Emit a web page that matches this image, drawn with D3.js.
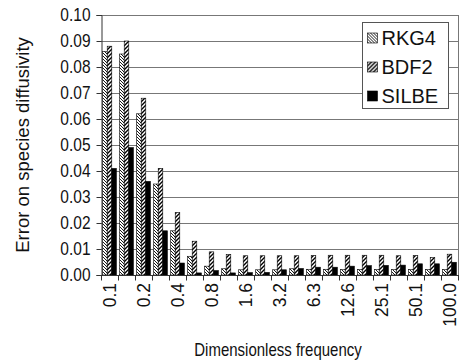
<!DOCTYPE html>
<html>
<head>
<meta charset="utf-8">
<script src="https://cdn.jsdelivr.net/npm/d3@7"></script>
<style>
  html, body { margin: 0; padding: 0; background: #fff; }
  svg { display: block; font-family: "Liberation Sans", Arial, sans-serif; }
</style>
</head>
<body>
<svg id="chart" width="466" height="362"></svg>
<script>
// Dimensionless frequencies (every other one is labelled on the axis)
const frequencies = ["0.1", "0.14", "0.2", "0.28", "0.4", "0.56", "0.8", "1.1", "1.6", "2.2",
  "3.2", "4.5", "6.3", "8.9", "12.6", "17.8", "25.1", "35.5", "50.1", "70.8", "100.0"];
const seriesNames = ["RKG4", "BDF2", "SILBE"];
const rkg4 = [0.086, 0.085, 0.062, 0.035, 0.017, 0.0072, 0.0034, 0.0024, 0.0020, 0.0020,
  0.0020, 0.0024, 0.0022, 0.0022, 0.0021, 0.0021, 0.0021, 0.0021, 0.0021, 0.0021, 0.0021];
const bdf2 = [0.088, 0.090, 0.068, 0.041, 0.024, 0.013, 0.0089, 0.0079, 0.0074, 0.0074,
  0.0074, 0.0074, 0.0075, 0.0076, 0.0076, 0.0076, 0.0076, 0.0074, 0.0075, 0.0067, 0.0080];
const silbe = [0.041, 0.049, 0.036, 0.017, 0.0046, 0.0008, 0.0017, 0.0008, 0.0009, 0.0010,
  0.0020, 0.0025, 0.0030, 0.0030, 0.0034, 0.0036, 0.0037, 0.0038, 0.0043, 0.0043, 0.0049];
const yTicks = [0, 0.01, 0.02, 0.03, 0.04, 0.05, 0.06, 0.07, 0.08, 0.09, 0.10];

const values = [rkg4, bdf2, silbe];
const svg = d3.select("#chart");
const margin = { left: 101, right: 458, top: 15, bottom: 275 };
const FONT = "Liberation Sans, Arial, sans-serif";

// Fill patterns for the hatched series
const defs = svg.append("defs");
const p1 = defs.append("pattern").attr("id", "hatch-rkg4")
  .attr("patternUnits", "userSpaceOnUse").attr("width", 3).attr("height", 3);
p1.append("rect").attr("width", 3).attr("height", 3).attr("fill", "#fff");
p1.append("path").attr("d", "M-1,-1 L4,4 M-1,2 L1,4 M2,-1 L4,1")
  .attr("stroke", "#000").attr("stroke-width", 0.9);
const p2 = defs.append("pattern").attr("id", "hatch-bdf2")
  .attr("patternUnits", "userSpaceOnUse").attr("width", 4).attr("height", 4);
p2.append("rect").attr("width", 4).attr("height", 4).attr("fill", "#fff");
p2.append("path").attr("d", "M-1,5 L5,-1 M-1,1 L1,-1 M3,5 L5,3")
  .attr("stroke", "#000").attr("stroke-width", 1.4);
const fills = ["url(#hatch-rkg4)", "url(#hatch-bdf2)", "#000"];

const x = d3.scaleBand().domain(d3.range(frequencies.length))
  .range([margin.left, margin.right]).paddingInner(0).paddingOuter(0);
const xSub = d3.scaleBand().domain(d3.range(seriesNames.length))
  .range([0, x.bandwidth()]).paddingInner(0).paddingOuter(0.36);
const y = d3.scaleLinear().domain([0, 0.10]).range([margin.bottom, margin.top]);

// Gridlines
svg.append("g").selectAll("line").data(yTicks.slice(1)).join("line")
  .attr("x1", margin.left).attr("x2", margin.right)
  .attr("y1", d => Math.round(y(d)) + 0.5).attr("y2", d => Math.round(y(d)) + 0.5)
  .attr("stroke", "#777").attr("stroke-width", 1);
// Plot-area right edge
svg.append("line").attr("x1", margin.right + 0.5).attr("x2", margin.right + 0.5)
  .attr("y1", margin.top).attr("y2", margin.bottom)
  .attr("stroke", "#777");

// Bars
const groups = svg.append("g").selectAll("g").data(frequencies).join("g")
  .attr("transform", (d, i) => `translate(${x(i)},0)`);
groups.selectAll("rect").data((d, i) => values.map((s, k) => ({ k, v: s[i] }))).join("rect")
  .attr("x", d => xSub(d.k))
  .attr("width", xSub.bandwidth())
  .attr("y", d => y(d.v))
  .attr("height", d => y(0) - y(d.v))
  .attr("fill", d => fills[d.k])
  .attr("stroke", "#000").attr("stroke-width", 0.6);

// Y axis
const yAxis = d3.axisLeft(y).tickValues(yTicks).tickSize(5).tickFormat(d3.format(".2f"));
const gy = svg.append("g").attr("transform", `translate(${margin.left + 0.5},0)`).call(yAxis);
gy.select(".domain").attr("stroke", "#333");
gy.selectAll(".tick line").attr("stroke", "#333");
gy.selectAll(".tick text").attr("font-size", 15.5).attr("fill", "#111")
  .attr("font-family", FONT).attr("x", -11)
  .attr("transform", "scale(1,1.15)");

// X axis: ticks at group boundaries, labels on every other group
const gx = svg.append("g").attr("transform", `translate(0,${margin.bottom + 0.5})`);
gx.append("line").attr("x1", margin.left).attr("x2", margin.right + 1)
  .attr("stroke", "#333");
gx.selectAll("line.tk").data(d3.range(frequencies.length + 1)).join("line").attr("class", "tk")
  .attr("x1", i => Math.round(margin.left + i * x.step()) + 0.5)
  .attr("x2", i => Math.round(margin.left + i * x.step()) + 0.5)
  .attr("y1", 0).attr("y2", 5).attr("stroke", "#333");
const xAxis = d3.axisBottom(x).tickSize(0)
  .tickFormat(i => i % 2 === 0 ? frequencies[i] : "");
const gxl = svg.append("g").attr("transform", `translate(0,${margin.bottom})`).call(xAxis);
gxl.select(".domain").remove();
gxl.selectAll(".tick text")
  .attr("font-size", 17.5).attr("fill", "#111")
  .attr("font-family", FONT)
  .attr("transform", "rotate(-90)")
  .attr("text-anchor", "end").attr("dy", "0.35em")
  .attr("x", -8).attr("y", 0);

// Axis titles
svg.append("text").attr("transform", "translate(278,356) scale(1,1.18)")
  .attr("text-anchor", "middle")
  .attr("font-size", 15).attr("fill", "#111").text("Dimensionless frequency");
svg.append("text").attr("transform", "translate(29,145) rotate(-90)")
  .attr("text-anchor", "middle").attr("font-size", 18.5).attr("fill", "#111")
  .text("Error on species diffusivity");

// Legend
const lg = svg.append("g").attr("transform", "translate(362.5,22.5)");
lg.append("rect").attr("width", 86).attr("height", 86)
  .attr("fill", "#fff").attr("stroke", "#555");
const items = lg.selectAll("g").data(seriesNames).join("g")
  .attr("transform", (d, i) => `translate(5,${10.5 + i * 29})`);
items.append("rect").attr("width", 10).attr("height", 10)
  .attr("fill", (d, i) => fills[i]).attr("stroke", "#000").attr("stroke-width", 0.6);
items.append("text").attr("x", 14).attr("y", 5).attr("dy", "0.36em")
  .attr("font-size", 20).attr("fill", "#111").text(d => d);
</script>
</body>
</html>
